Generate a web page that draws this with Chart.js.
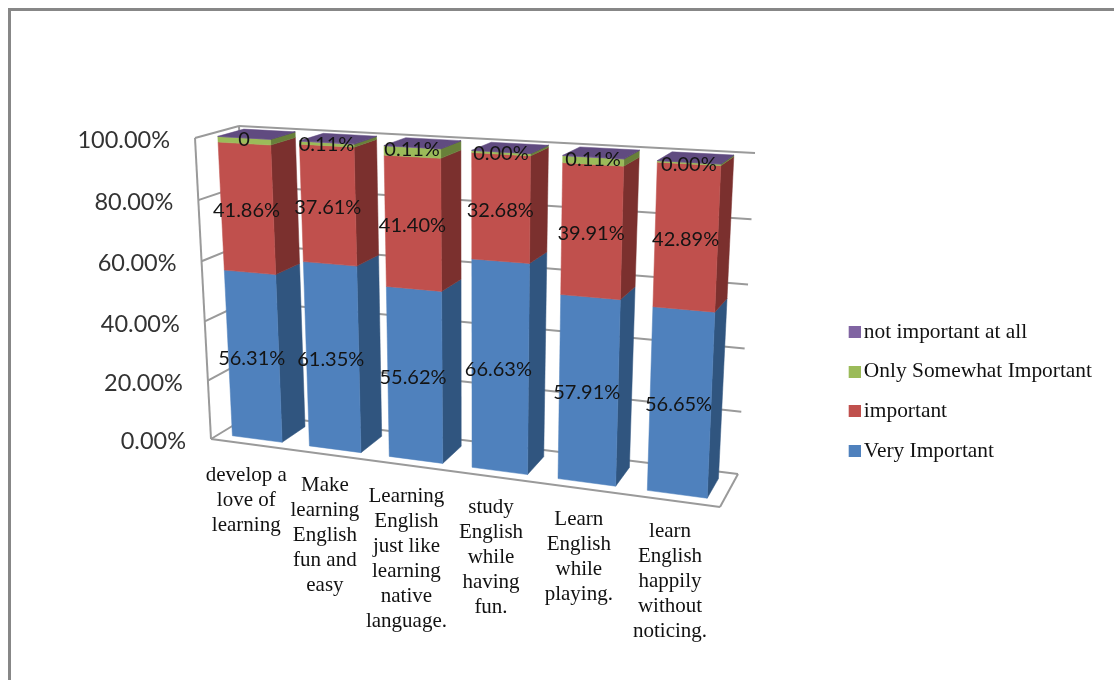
<!DOCTYPE html>
<html>
<head>
<meta charset="utf-8">
<title>Importance of learning goals</title>
<style>
  html, body { margin: 0; padding: 0; background: #fff; }
  #frame { position: absolute; left: 8px; top: 8px; right: 0; bottom: 0; border-left: 3px solid #878787; border-top: 3px solid #878787; }
  #wrap { position: absolute; left: 0; top: 0; width: 1114px; height: 680px; }
</style>
<script src="https://cdn.jsdelivr.net/npm/chart.js@4"></script>
</head>
<body>
<div id="frame"></div>
<div id="wrap"><canvas id="chart" width="1114" height="680"></canvas></div>
<script>
// Survey results: share of answers per learning goal, stacked to 100%.
const categories = [
  ['develop a', 'love of', 'learning'],
  ['Make', 'learning', 'English', 'fun and', 'easy'],
  ['Learning', 'English', 'just like', 'learning', 'native', 'language.'],
  ['study', 'English', 'while', 'having', 'fun.'],
  ['Learn', 'English', 'while', 'playing.'],
  ['learn', 'English', 'happily', 'without', 'noticing.']
];
const veryImportant = [56.31, 61.35, 55.62, 66.63, 57.91, 56.65];
const important = [41.86, 37.61, 41.40, 32.68, 39.91, 42.89];
const onlySomewhatImportant = [1.83, 0.93, 2.87, 0.69, 2.07, 0.46];
const notImportantAtAll = [0, 0.11, 0.11, 0, 0.11, 0];
const notImportantLabels = ['0', '0.11%', '0.11%', '0.00%', '0.11%', '0.00%'];
const yTicks = [0, 20, 40, 60, 80, 100];

// Corners of the 3D plot box on the canvas: F/B front/back, 0/1 left/right, b/t floor/ceiling.
const box = {
  F0b: [211, 439], F1b: [720, 507], B0b: [252, 414], B1b: [738, 474],
  F0t: [195, 138], F1t: [734, 168], B0t: [239, 126], B1t: [755, 153]
};
const depthFront = 0.2, depthBack = 0.8;
const perspectiveX = 1.118, perspectiveY = 1.04;

const warp = (t, k) => t / (t + k * (1 - t));
const mix = (a, b, t) => [a[0] + (b[0] - a[0]) * t, a[1] + (b[1] - a[1]) * t];

// Projects plot fractions (u across, v up, w into the page) to canvas pixels.
function project(u, v, w) {
  const tu = warp(u, perspectiveX), tv = warp(v, perspectiveY);
  const bottom = mix(mix(box.F0b, box.F1b, tu), mix(box.B0b, box.B1b, tu), w);
  const top = mix(mix(box.F0t, box.F1t, tu), mix(box.B0t, box.B1t, tu), w);
  return mix(bottom, top, tv);
}

function polygon(ctx, points, fill) {
  ctx.beginPath();
  points.forEach((p, i) => i ? ctx.lineTo(p[0], p[1]) : ctx.moveTo(p[0], p[1]));
  ctx.closePath();
  ctx.fillStyle = fill;
  ctx.strokeStyle = fill;
  ctx.lineWidth = 0.5;
  ctx.fill();
  ctx.stroke();
}

function segment(ctx, a, b) {
  ctx.beginPath();
  ctx.moveTo(a[0], a[1]);
  ctx.lineTo(b[0], b[1]);
  ctx.stroke();
}

// Draws walls, bars and every label in perspective, reading positions from the chart's scales.
const perspectiveBars = {
  id: 'perspectiveBars',
  beforeDatasetsDraw(chart) {
    const { ctx, chartArea: area, scales: { x, y } } = chart;
    const toU = px => (px - area.left) / area.width;
    const toV = px => (area.bottom - px) / area.height;
    ctx.save();

    // Walls and floor
    ctx.strokeStyle = '#9a9a9a';
    ctx.lineWidth = 2;
    ctx.lineJoin = 'round';
    y.ticks.forEach(tick => {
      const v = toV(y.getPixelForValue(tick.value));
      segment(ctx, project(0, v, 0), project(0, v, 1));
      segment(ctx, project(0, v, 1), project(1, v, 1));
    });
    segment(ctx, project(0, 0, 0), project(0, 1, 0));
    segment(ctx, project(0, 0, 1), project(0, 1, 1));
    segment(ctx, project(0, 0, 0), project(1, 0, 0));
    segment(ctx, project(1, 0, 0), project(1, 0, 1));

    // Bars: side and front faces of each segment, with a cap on the top of the stack
    const count = categories.length;
    for (let i = 0; i < count; i++) {
      chart.data.datasets.forEach((dataset, d) => {
        const bar = chart.getDatasetMeta(d).data[i];
        const u0 = toU(bar.x - bar.width / 2), u1 = toU(bar.x + bar.width / 2);
        const v0 = toV(bar.base), v1 = toV(bar.y);
        polygon(ctx, [project(u1, v0, depthFront), project(u1, v0, depthBack),
                      project(u1, v1, depthBack), project(u1, v1, depthFront)], dataset.sideColor);
        polygon(ctx, [project(u0, v0, depthFront), project(u1, v0, depthFront),
                      project(u1, v1, depthFront), project(u0, v1, depthFront)], dataset.backgroundColor);
        if (d === chart.data.datasets.length - 1) {
          polygon(ctx, [project(u0, v1, depthFront), project(u1, v1, depthFront),
                        project(u1, v1, depthBack), project(u0, v1, depthBack)], dataset.capColor);
        }
      });
    }

    // Value labels on the front faces
    ctx.textAlign = 'center';
    ctx.textBaseline = 'middle';
    ctx.font = '20px Lato';
    ctx.fillStyle = '#141414';
    chart.data.datasets.forEach((dataset, d) => {
      if (!dataset.valueLabels) return;
      chart.getDatasetMeta(d).data.forEach((bar, i) => {
        const v = toV((bar.base + bar.y) / 2);
        const p = project(toU(bar.x), v, depthFront);
        ctx.fillText(dataset.valueLabels[i], p[0] - 2.5 * (1 - v), p[1] + 2);
      });
    });

    // Value axis labels beside the left wall
    ctx.textAlign = 'right';
    ctx.font = '23.5px Lato';
    ctx.fillStyle = '#333333';
    y.ticks.forEach(tick => {
      const p = project(0, toV(y.getPixelForValue(tick.value)), 0);
      ctx.fillText(tick.label, p[0] - 25, p[1] + 2.5);
    });

    // Category labels below the floor
    ctx.textAlign = 'center';
    ctx.font = '21px "Liberation Serif"';
    ctx.fillStyle = '#111111';
    categories.forEach((lines, i) => {
      const barX = x.getPixelForValue(i);
      const p = project(toU(barX), 0, 0);
      lines.forEach((line, l) => ctx.fillText(line, p[0] - 3, p[1] + 31 + l * 25));
    });

    ctx.restore();
    return false;
  }
};

// Legend swatch set tight against its text
function swatch(color) {
  const c = document.createElement('canvas');
  c.width = 16;
  c.height = 12;
  const g = c.getContext('2d');
  g.fillStyle = color;
  g.fillRect(4, 0, 12, 12);
  return c;
}

const format = v => v.toFixed(2) + '%';

new Chart(document.getElementById('chart'), {
  type: 'bar',
  data: {
    labels: categories,
    datasets: [
      { label: 'Very Important', data: veryImportant, backgroundColor: '#4F81BD', sideColor: '#30557F', valueLabels: veryImportant.map(format) },
      { label: 'important', data: important, backgroundColor: '#C0504D', sideColor: '#7B302E', valueLabels: important.map(format) },
      { label: 'Only Somewhat Important', data: onlySomewhatImportant, backgroundColor: '#9BBB59', sideColor: '#68803A' },
      { label: 'not important at all', data: notImportantAtAll, backgroundColor: '#8064A2', sideColor: '#4F3D6B', capColor: '#604B80', valueLabels: notImportantLabels }
    ]
  },
  plugins: [perspectiveBars],
  options: {
    responsive: false,
    animation: false,
    layout: { padding: { top: 103, right: 12 } },
    barPercentage: 0.65,
    categoryPercentage: 1,
    scales: {
      x: { stacked: true, display: false },
      y: {
        stacked: true, display: false, min: 0, max: 100,
        afterBuildTicks: scale => { scale.ticks = yTicks.map(value => ({ value })); },
        ticks: { callback: format }
      }
    },
    plugins: {
      tooltip: { enabled: false },
      legend: {
        position: 'right',
        reverse: true,
        labels: {
          usePointStyle: true,
          pointStyleWidth: 1,
          padding: 18.2,
          color: '#111111',
          font: { family: '"Liberation Serif"', size: 21.4 },
          generateLabels: chart => chart.data.datasets.map((dataset, i) => ({
            text: dataset.label,
            pointStyle: swatch(dataset.backgroundColor),
            fontColor: '#111111',
            datasetIndex: i
          }))
        }
      }
    }
  }
});
</script>
</body>
</html>
